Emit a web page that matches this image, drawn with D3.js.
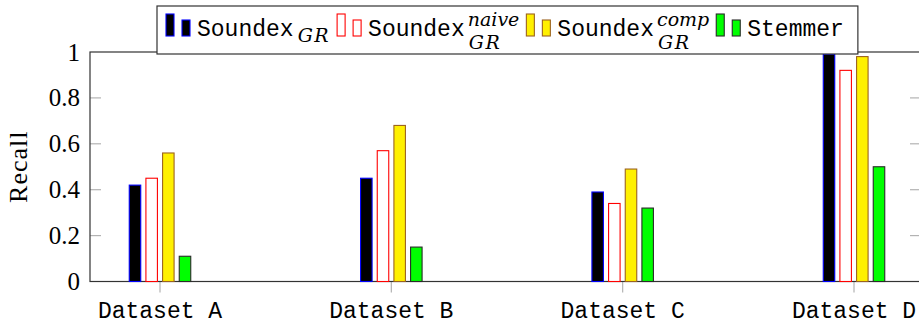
<!DOCTYPE html>
<html>
<head>
<meta charset="utf-8">
<script src="https://cdn.jsdelivr.net/npm/d3@7"></script>
<style>
  body { margin: 0; background: #fff; }
  svg { display: block; }
</style>
</head>
<body>
<div id="chart"></div>
<script>
// data
var categories = ["Dataset A", "Dataset B", "Dataset C", "Dataset D"];
var seriesNames = ["soundex", "naive", "comp", "stemmer"];
var soundexValues = [0.42, 0.45, 0.39, 0.99];
var naiveValues = [0.45, 0.57, 0.34, 0.92];
var compValues = [0.56, 0.68, 0.49, 0.98];
var stemmerValues = [0.11, 0.15, 0.32, 0.50];
var yTicks = [0, 0.2, 0.4, 0.6, 0.8, 1];

var allValues = [soundexValues, naiveValues, compValues, stemmerValues];

// legend labels: main text, superscript, subscript
var legendMain = ["Soundex", "Soundex", "Soundex", "Stemmer"];
var legendSup = ["", "naive", "comp", ""];
var legendSub = ["GR", "GR", "GR", ""];

var fills = ["#000000", "#ffffff", "#fff000", "#00ff00"];
var strokes = ["#0000ff", "#ff0000", "#9c6320", "#2a2a2a"];

var width = 919, height = 325;
// plot area (window.top is reserved, so no plain "top")
var plotLeft = 90, plotRight = 921, plotTop = 52, plotBottom = 281.5;

var svg = d3.select("#chart").append("svg")
            .attr("width", width)
            .attr("height", height);

var x = d3.scalePoint().domain(categories).range([160, 854]);
var xInner = d3.scaleBand().domain(seriesNames).range([-33.33, 33.33])
               .paddingInner(0.31).paddingOuter(0.155);
var y = d3.scaleLinear().domain([0, 1]).range([plotBottom, plotTop]);

// inner y ticks on left and right
var innerTicks = yTicks.filter(function(t) { return t > 0 && t < 1; });
svg.append("g").selectAll("line").data(innerTicks).enter().append("line")
   .attr("x1", plotLeft).attr("x2", plotLeft + 11)
   .attr("y1", function(d) { return y(d); }).attr("y2", function(d) { return y(d); })
   .attr("stroke", "#b3b3b3").attr("stroke-width", 1.2);
svg.append("g").selectAll("line").data(innerTicks).enter().append("line")
   .attr("x1", plotRight - 11).attr("x2", plotRight)
   .attr("y1", function(d) { return y(d); }).attr("y2", function(d) { return y(d); })
   .attr("stroke", "#b3b3b3").attr("stroke-width", 1.2);

// x ticks below the axis
svg.append("g").selectAll("line").data(categories).enter().append("line")
   .attr("x1", function(d) { return x(d); }).attr("x2", function(d) { return x(d); })
   .attr("y1", plotBottom).attr("y2", plotBottom + 11)
   .attr("stroke", "#b3b3b3").attr("stroke-width", 1.2);

// frame
svg.append("rect")
   .attr("x", plotLeft).attr("y", plotTop)
   .attr("width", plotRight - plotLeft).attr("height", plotBottom - plotTop)
   .attr("fill", "none").attr("stroke", "#333").attr("stroke-width", 1.2);

// y tick labels
svg.append("g").selectAll("text").data(yTicks).enter().append("text")
   .attr("x", 80).attr("y", function(d) { return y(d); })
   .attr("dy", "0.34em")
   .attr("text-anchor", "end")
   .attr("font-family", "Liberation Serif, serif")
   .attr("font-size", 25)
   .text(function(d) { return d3.format("~g")(d); });

// y axis title
svg.append("text")
   .attr("transform", "translate(27," + ((plotTop + plotBottom) / 2) + ") rotate(-90)")
   .attr("text-anchor", "middle")
   .attr("font-family", "Liberation Serif, serif")
   .attr("font-size", 26)
   .attr("letter-spacing", 1)
   .text("Recall");

// x tick labels
svg.append("g").selectAll("text").data(categories).enter().append("text")
   .attr("x", function(d) { return x(d); })
   .attr("y", 318)
   .attr("text-anchor", "middle")
   .attr("font-family", "Liberation Mono, monospace")
   .attr("font-size", 23)
   .text(function(d) { return d; });

// bars
var groups = svg.append("g").selectAll("g").data(seriesNames).enter().append("g")
   .attr("fill", function(d, i) { return fills[i]; })
   .attr("stroke", function(d, i) { return strokes[i]; })
   .attr("stroke-width", 1.1);
groups.selectAll("rect")
   .data(function(d, i) {
     return categories.map(function(c, j) { return {cat: c, s: d, v: allValues[i][j]}; });
   })
   .enter().append("rect")
   .attr("x", function(d) { return x(d.cat) + xInner(d.s); })
   .attr("width", xInner.bandwidth())
   .attr("y", function(d) { return y(d.v); })
   .attr("height", function(d) { return y(0) - y(d.v); });

// legend
var legend = svg.append("g");
var legendBox = legend.append("rect")
   .attr("fill", "#fff").attr("stroke", "#333").attr("stroke-width", 1.2);
var cursor = 166;
var entryEnds = [];
seriesNames.forEach(function(s, i) {
  var g = legend.append("g");
  g.append("rect").attr("x", cursor).attr("y", 14).attr("width", 8).attr("height", 22)
   .attr("fill", fills[i]).attr("stroke", strokes[i]).attr("stroke-width", 1.1);
  g.append("rect").attr("x", cursor + 16).attr("y", 20).attr("width", 8).attr("height", 16)
   .attr("fill", fills[i]).attr("stroke", strokes[i]).attr("stroke-width", 1.1);
  var t = g.append("text")
   .attr("x", cursor + 31).attr("y", 36)
   .attr("font-family", "Liberation Mono, monospace")
   .attr("font-size", 23)
   .text(legendMain[i]);
  var textEnd = cursor + 31 + t.node().getComputedTextLength();
  var endX = textEnd;
  if (legendSup[i]) {
    var sup = g.append("text")
     .attr("x", textEnd + 3).attr("y", 26)
     .attr("font-family", "DejaVu Serif, serif")
     .attr("font-style", "italic")
     .attr("font-size", 19)
     .text(legendSup[i]);
    endX = Math.max(endX, textEnd + 3 + sup.node().getComputedTextLength());
  }
  if (legendSub[i]) {
    var sub = g.append("text")
     .attr("x", textEnd + 4).attr("y", legendSup[i] ? 49 : 42)
     .attr("font-family", "DejaVu Serif, serif")
     .attr("font-style", "italic")
     .attr("font-size", 19)
     .attr("letter-spacing", 1.5)
     .text(legendSub[i]);
    endX = Math.max(endX, textEnd + 4 + sub.node().getComputedTextLength());
  }
  entryEnds.push(endX);
  cursor = endX + 7;
});
legendBox.attr("x", 157).attr("y", 6)
   .attr("width", entryEnds[entryEnds.length - 1] + 14 - 157)
   .attr("height", 48);
</script>
</body>
</html>
